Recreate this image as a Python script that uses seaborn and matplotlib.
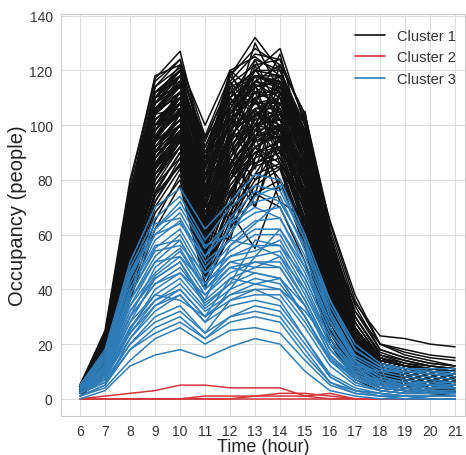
import pandas as pd
import matplotlib
matplotlib.use("Agg")
import matplotlib.pyplot as plt
import seaborn as sns
from matplotlib.lines import Line2D

hours = list(range(6, 22))

# occupancy per room profile, hours 6..21
cluster1 = [
    [4, 22, 75, 117, 127, 90, 110, 118, 115, 90, 45, 20, 12, 10, 9, 8],
    [5, 20, 70, 105, 115, 80, 118, 132, 120, 98, 50, 25, 14, 12, 11, 10],
    [4, 18, 68, 100, 112, 85, 112, 120, 128, 100, 55, 28, 15, 12, 10, 9],
    [5, 24, 78, 118, 122, 100, 120, 125, 118, 95, 52, 22, 13, 11, 10, 9],
    [4, 20, 65, 95, 105, 80, 100, 105, 100, 85, 55, 35, 23, 22, 20, 19],
    [3, 16, 60, 98, 108, 70, 95, 110, 112, 88, 40, 18, 10, 8, 7, 6],
    [3, 15, 55, 90, 100, 62, 88, 100, 105, 80, 38, 15, 9, 7, 6, 5],
    [4, 19, 72, 110, 118, 75, 105, 115, 110, 92, 48, 20, 11, 9, 8, 7],
    [2, 12, 48, 80, 95, 55, 80, 92, 98, 70, 30, 12, 7, 5, 4, 4],
    [3, 14, 52, 85, 98, 60, 85, 98, 95, 75, 35, 14, 8, 6, 5, 5],
    [5, 21, 74, 112, 120, 95, 115, 122, 124, 102, 60, 30, 16, 14, 12, 11],
    [2, 10, 42, 72, 88, 48, 70, 85, 88, 62, 25, 10, 5, 4, 3, 3],
    [3, 17, 62, 96, 104, 68, 92, 104, 102, 82, 42, 18, 9, 8, 7, 6],
    [4, 23, 76, 108, 114, 88, 108, 112, 108, 92, 50, 24, 14, 12, 11, 10],
    [2, 11, 45, 75, 90, 50, 75, 88, 92, 65, 28, 11, 6, 5, 4, 3],
    [3, 13, 50, 82, 96, 58, 82, 95, 100, 72, 33, 13, 7, 6, 5, 4],
    [4, 18, 66, 102, 110, 78, 100, 112, 118, 96, 46, 19, 11, 9, 8, 7],
    [2, 9, 38, 65, 82, 45, 65, 80, 85, 58, 22, 8, 4, 3, 2, 2],
    [3, 15, 58, 92, 102, 65, 90, 102, 106, 84, 44, 20, 12, 10, 9, 8],
    [5, 22, 70, 106, 116, 92, 112, 118, 114, 94, 54, 26, 15, 13, 12, 11],
    [2, 12, 46, 78, 92, 52, 78, 90, 94, 68, 32, 14, 8, 6, 5, 5],
    [3, 16, 60, 94, 106, 72, 96, 106, 110, 86, 40, 17, 9, 7, 6, 5],
    [4, 20, 68, 104, 112, 82, 104, 114, 116, 98, 56, 32, 20, 18, 16, 15],
    [1, 8, 36, 62, 78, 42, 60, 75, 80, 55, 20, 7, 3, 2, 2, 1],
    [3, 14, 54, 88, 100, 64, 88, 100, 102, 78, 36, 15, 8, 6, 5, 4],
    [4, 19, 70, 108, 118, 86, 108, 116, 112, 90, 48, 21, 12, 10, 9, 8],
    [2, 10, 44, 74, 86, 46, 72, 86, 90, 64, 26, 10, 5, 4, 3, 3],
    [3, 17, 64, 98, 108, 74, 98, 108, 108, 88, 44, 19, 10, 8, 7, 6],
    [5, 25, 80, 116, 124, 96, 118, 128, 122, 104, 62, 34, 18, 15, 13, 12],
    [2, 12, 48, 82, 94, 56, 84, 94, 96, 70, 30, 12, 6, 5, 4, 4],
    [3, 15, 56, 90, 104, 66, 92, 102, 104, 80, 38, 16, 9, 7, 6, 6],
    [4, 21, 72, 110, 120, 84, 106, 120, 120, 96, 52, 24, 13, 11, 10, 9],
    [2, 11, 40, 70, 84, 44, 68, 82, 86, 60, 24, 9, 5, 4, 3, 2],
    [3, 13, 52, 86, 97, 62, 86, 96, 98, 76, 34, 14, 7, 6, 5, 5],
    [4, 18, 64, 100, 110, 76, 102, 110, 114, 90, 46, 22, 14, 12, 11, 10],
    [3, 16, 58, 92, 100, 70, 94, 104, 100, 84, 40, 17, 9, 8, 7, 6],
    [4, 20, 72, 114, 121, 92, 114, 118, 116, 94, 50, 23, 12, 10, 9, 8],
    [2, 10, 44, 76, 90, 50, 76, 90, 92, 66, 28, 11, 6, 4, 3, 3],
    [3, 14, 56, 88, 98, 60, 86, 98, 100, 78, 36, 15, 8, 7, 6, 5],
    [4, 19, 68, 104, 114, 80, 104, 116, 114, 92, 48, 20, 11, 9, 8, 7],
    [3, 15, 60, 95, 105, 68, 90, 100, 98, 82, 42, 18, 10, 9, 8, 7],
    [2, 12, 50, 84, 94, 54, 82, 92, 96, 72, 32, 13, 7, 5, 4, 4],
    [4, 22, 74, 108, 118, 88, 110, 124, 120, 100, 58, 28, 15, 12, 11, 10],
    [3, 17, 62, 94, 102, 64, 94, 104, 108, 86, 44, 19, 10, 8, 7, 6],
    [2, 9, 40, 68, 80, 44, 62, 78, 84, 56, 22, 9, 4, 3, 3, 2],
    [3, 14, 54, 86, 96, 58, 84, 96, 100, 76, 34, 14, 8, 6, 5, 4],
    [4, 20, 70, 106, 116, 84, 106, 118, 118, 96, 50, 22, 12, 10, 9, 8],
    [3, 16, 60, 96, 104, 72, 98, 108, 110, 88, 42, 18, 10, 8, 7, 6],
    [2, 11, 46, 80, 92, 52, 80, 90, 94, 68, 30, 12, 6, 5, 4, 4],
    [5, 23, 76, 112, 120, 94, 116, 126, 124, 102, 60, 30, 17, 14, 12, 11],
    [3, 13, 52, 84, 96, 60, 84, 94, 96, 74, 36, 15, 8, 6, 5, 5],
    [4, 18, 66, 102, 110, 78, 102, 112, 112, 92, 46, 20, 11, 9, 8, 7],
    [2, 10, 42, 72, 86, 48, 72, 86, 90, 62, 26, 10, 5, 4, 3, 3],
    [3, 15, 58, 92, 102, 66, 90, 102, 104, 82, 40, 17, 9, 7, 6, 6],
    [4, 21, 70, 108, 116, 86, 108, 118, 116, 94, 52, 24, 13, 11, 10, 9],
    [3, 16, 62, 96, 106, 70, 96, 106, 106, 86, 42, 18, 10, 8, 7, 6],
    [2, 12, 50, 82, 94, 56, 80, 94, 98, 72, 32, 13, 7, 5, 5, 4],
    [4, 19, 68, 106, 114, 82, 104, 114, 118, 96, 48, 21, 12, 10, 9, 8],
    [3, 14, 56, 90, 100, 64, 88, 100, 102, 80, 38, 16, 8, 7, 6, 5],
    [4, 22, 74, 110, 118, 90, 112, 120, 118, 98, 54, 26, 14, 12, 11, 10],
    [3, 14, 55, 85, 95, 41, 60, 75, 70, 50, 20, 8, 4, 3, 2, 2],
    [4, 18, 62, 92, 100, 60, 110, 95, 122, 90, 45, 18, 9, 7, 6, 5],
    [3, 16, 58, 88, 98, 78, 65, 115, 90, 105, 50, 22, 11, 9, 8, 7],
    [2, 11, 48, 78, 88, 52, 95, 70, 100, 60, 25, 10, 5, 4, 3, 3],
    [4, 20, 66, 100, 108, 70, 120, 100, 88, 72, 35, 14, 7, 5, 4, 4],
    [3, 15, 52, 82, 92, 62, 58, 88, 108, 98, 65, 38, 20, 16, 14, 12],
    [5, 22, 72, 104, 112, 85, 100, 130, 112, 85, 40, 16, 8, 6, 5, 4],
    [2, 12, 45, 75, 85, 46, 68, 55, 80, 62, 30, 12, 6, 5, 4, 3],
    [3, 15, 58, 96, 110, 66, 76, 90, 84, 70, 34, 14, 7, 5, 4, 4],
    [4, 19, 66, 104, 106, 74, 114, 96, 104, 82, 40, 16, 8, 6, 5, 5],
    [3, 13, 54, 90, 104, 58, 70, 104, 76, 88, 48, 22, 11, 9, 8, 7],
    [4, 21, 70, 112, 116, 82, 92, 122, 98, 80, 36, 15, 8, 6, 5, 4],
    [2, 12, 48, 84, 98, 56, 88, 74, 112, 94, 52, 24, 12, 10, 9, 8],
    [3, 16, 60, 98, 112, 64, 104, 86, 92, 104, 58, 30, 16, 13, 11, 10],
    [4, 18, 64, 100, 104, 76, 84, 110, 94, 76, 38, 16, 9, 7, 6, 5],
    [3, 14, 52, 88, 100, 54, 66, 82, 96, 84, 44, 20, 10, 8, 7, 6],
    [5, 22, 74, 114, 124, 88, 118, 108, 126, 92, 50, 22, 12, 10, 9, 8],
    [3, 15, 56, 94, 108, 62, 98, 118, 102, 96, 54, 26, 14, 12, 10, 9],
    [2, 11, 46, 80, 94, 50, 62, 96, 72, 66, 30, 12, 6, 5, 4, 4],
    [4, 20, 68, 106, 110, 84, 116, 104, 110, 86, 42, 18, 10, 8, 7, 6],
    [3, 17, 62, 100, 112, 70, 80, 100, 118, 100, 56, 28, 15, 12, 11, 10],
    [4, 19, 70, 110, 114, 96, 106, 94, 100, 78, 38, 16, 8, 6, 5, 5],
    [2, 13, 50, 86, 100, 58, 90, 110, 86, 74, 34, 14, 7, 5, 4, 4],
    [3, 16, 58, 96, 106, 72, 108, 98, 114, 96, 50, 22, 11, 9, 8, 7],
    [4, 18, 66, 104, 118, 78, 94, 114, 106, 90, 46, 20, 10, 8, 7, 6],
    [3, 14, 54, 90, 96, 60, 74, 92, 80, 64, 28, 11, 6, 5, 4, 3],
    [5, 21, 72, 112, 118, 90, 102, 120, 112, 102, 60, 32, 18, 15, 13, 12],
    [3, 15, 58, 92, 104, 68, 84, 70, 96, 88, 46, 20, 10, 8, 7, 6],
    [4, 20, 70, 108, 120, 86, 120, 112, 96, 84, 40, 17, 9, 7, 6, 5],
    [2, 12, 50, 86, 96, 62, 100, 84, 108, 92, 48, 22, 11, 9, 8, 7],
    [3, 17, 62, 98, 110, 74, 88, 106, 90, 80, 38, 16, 8, 6, 5, 5],
    [4, 19, 68, 106, 112, 80, 96, 124, 104, 98, 56, 26, 14, 12, 10, 9],
    [3, 14, 56, 92, 102, 64, 78, 88, 112, 90, 44, 20, 11, 9, 8, 7],
    [4, 22, 72, 110, 122, 92, 110, 100, 116, 94, 52, 24, 12, 10, 9, 8],
    [3, 16, 60, 96, 108, 70, 116, 92, 86, 70, 32, 13, 7, 5, 4, 4],
    [2, 12, 50, 84, 94, 58, 72, 104, 98, 86, 42, 18, 9, 7, 6, 5],
    [4, 20, 66, 104, 116, 82, 100, 116, 122, 104, 64, 36, 20, 17, 15, 14],
    [3, 15, 58, 94, 100, 66, 92, 80, 92, 74, 36, 15, 8, 6, 5, 4],
    [4, 18, 64, 102, 108, 76, 112, 108, 102, 96, 50, 24, 13, 11, 9, 8],
    [3, 13, 52, 88, 98, 62, 82, 98, 106, 82, 40, 18, 9, 7, 6, 5],
]

cluster2 = [
    [0, 1, 2, 3, 5, 5, 4, 4, 4, 1, 0, 0, 0, 0, 0, 0],
    [0, 0, 0, 0, 0, 1, 1, 1, 2, 2, 1, 0, 0, 0, 0, 0],
    [0, 0, 0, 0, 0, 0, 0, 1, 1, 1, 2, 0, 0, 0, 0, 0],
    [0, 0, 0, 0, 0, 0, 0, 0, 0, 0, 0, 0, 0, 0, 0, 0],
]

cluster3 = [
    [0, 3, 12, 16, 18, 15, 19, 22, 20, 10, 3, 1, 0, 0, 0, 0],
    [1, 4, 14, 22, 26, 20, 25, 26, 24, 14, 5, 2, 1, 0, 0, 0],
    [1, 5, 18, 26, 30, 22, 28, 30, 28, 16, 6, 3, 1, 1, 0, 0],
    [2, 6, 20, 30, 34, 24, 30, 34, 32, 20, 8, 3, 2, 1, 1, 1],
    [1, 5, 22, 32, 38, 28, 34, 36, 34, 22, 9, 4, 2, 1, 1, 1],
    [2, 7, 24, 34, 40, 30, 36, 38, 38, 26, 12, 5, 3, 2, 2, 2],
    [2, 8, 26, 36, 42, 32, 38, 40, 40, 28, 14, 6, 3, 2, 2, 2],
    [3, 9, 28, 38, 44, 33, 40, 44, 42, 30, 15, 7, 4, 3, 3, 2],
    [2, 8, 25, 40, 46, 35, 42, 46, 44, 30, 14, 6, 3, 2, 2, 2],
    [3, 10, 30, 42, 48, 36, 44, 48, 48, 34, 16, 8, 4, 3, 3, 3],
    [3, 11, 32, 45, 52, 38, 46, 50, 50, 36, 18, 9, 5, 4, 3, 3],
    [3, 10, 30, 48, 55, 40, 50, 52, 54, 38, 20, 10, 6, 5, 4, 4],
    [4, 12, 34, 50, 58, 42, 52, 56, 56, 40, 22, 11, 6, 5, 5, 4],
    [3, 12, 36, 52, 60, 44, 54, 60, 60, 44, 24, 12, 7, 6, 5, 5],
    [4, 13, 38, 55, 62, 46, 56, 62, 62, 46, 26, 13, 8, 6, 6, 5],
    [4, 14, 40, 58, 65, 48, 58, 65, 66, 48, 28, 14, 9, 7, 6, 6],
    [4, 15, 42, 60, 68, 52, 62, 68, 70, 52, 30, 15, 10, 8, 7, 6],
    [5, 16, 45, 62, 70, 55, 65, 72, 74, 54, 32, 16, 11, 9, 8, 7],
    [5, 17, 48, 66, 74, 58, 70, 78, 76, 58, 34, 18, 12, 10, 9, 8],
    [5, 18, 50, 70, 77, 62, 72, 82, 80, 60, 36, 20, 13, 11, 10, 9],
    [3, 10, 28, 44, 50, 36, 56, 64, 72, 56, 30, 14, 6, 4, 3, 2],
    [2, 8, 22, 34, 38, 28, 40, 52, 62, 48, 26, 12, 5, 3, 2, 2],
    [3, 12, 40, 56, 58, 40, 48, 46, 44, 30, 14, 8, 5, 4, 4, 4],
    [4, 14, 46, 64, 66, 50, 58, 56, 52, 36, 18, 9, 6, 5, 5, 4],
    [2, 7, 20, 28, 32, 24, 36, 40, 36, 22, 8, 3, 2, 1, 1, 1],
    [3, 9, 26, 38, 36, 30, 44, 42, 40, 32, 20, 12, 10, 10, 9, 9],
    [4, 11, 34, 46, 54, 40, 64, 70, 66, 50, 28, 16, 11, 10, 10, 10],
    [3, 10, 32, 44, 50, 34, 42, 58, 56, 44, 24, 12, 7, 5, 5, 4],
    [2, 6, 18, 24, 28, 22, 30, 32, 30, 18, 6, 2, 1, 1, 0, 0],
    [4, 15, 44, 62, 72, 56, 60, 74, 78, 58, 32, 14, 8, 6, 5, 5],
    [3, 12, 38, 54, 56, 46, 52, 54, 58, 42, 22, 10, 6, 5, 4, 4],
    [2, 9, 30, 42, 46, 38, 48, 50, 48, 34, 16, 7, 4, 3, 3, 3],
    [5, 16, 46, 60, 64, 52, 66, 76, 72, 56, 36, 18, 12, 11, 11, 11],
    [3, 11, 36, 50, 52, 42, 50, 48, 52, 40, 20, 9, 5, 4, 3, 3],
    [2, 8, 24, 36, 40, 30, 38, 42, 44, 34, 18, 8, 4, 3, 2, 2],
]

cluster_names = ["Cluster 1", "Cluster 2", "Cluster 3"]
colors = {"Cluster 1": "#111111", "Cluster 2": "#d2363a", "Cluster 3": "#2f7db8"}

rows = []
uid = 0
for name, profiles in zip(cluster_names, [cluster1, cluster2, cluster3]):
    for prof in profiles:
        for h, v in zip(hours, prof):
            rows.append({"hour": h, "occ": v, "cluster": name, "room": uid})
        uid += 1
df = pd.DataFrame(rows)

sns.set_style("whitegrid", {"grid.color": "#dddddd", "axes.edgecolor": "#cccccc"})
plt.rcParams["font.family"] = ["Liberation Sans", "DejaVu Sans"]

fig = plt.figure(figsize=(4.66, 4.56), dpi=100)
ax = fig.add_axes([0.131, 0.086, 0.867, 0.881])

sns.lineplot(data=df, x="hour", y="occ", hue="cluster", units="room",
             estimator=None, palette=colors, hue_order=cluster_names,
             linewidth=1.1, legend=False, ax=ax)

ax.set_xlim(5.24, 21.4)
ax.set_ylim(-6.2, 140.6)
ax.set_xticks(hours)
ax.set_yticks(range(0, 141, 20))
ax.tick_params(labelsize=10, colors="#333333", length=0, pad=6)
ax.set_xlabel("Time (hour)", fontsize=13, labelpad=0, color="#222222")
ax.set_ylabel("Occupancy (people)", fontsize=14.5, labelpad=2, color="#222222")

handles = [Line2D([], [], color=colors[n], linewidth=1.2) for n in cluster_names]
ax.legend(handles, cluster_names, loc="upper right", frameon=False,
          fontsize=10.5, handlelength=2.1, labelspacing=0.5,
          bbox_to_anchor=(1.01, 0.995), labelcolor="#333333")

fig.savefig("out.png", dpi=100)
